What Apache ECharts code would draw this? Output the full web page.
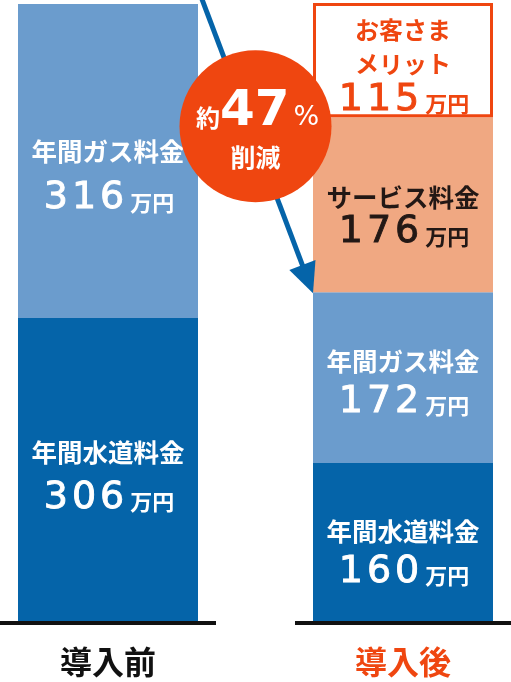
<!DOCTYPE html>
<html>
<head>
<meta charset="utf-8">
<script src="https://cdn.jsdelivr.net/npm/echarts@6/dist/echarts.min.js"></script>
<style>
  html, body { margin: 0; padding: 0; background: #fff; }
  #main { width: 511px; height: 682px; }
</style>
</head>
<body>
<div id="main"></div>
<script>
// データ
const categories = ['導入前', '導入後'];
const waterValues = [306, 160];     // 年間水道料金（万円）
const gasValues = [316, 172];       // 年間ガス料金（万円）
const serviceValues = ['-', 176];   // サービス料金（万円）
const meritValues = ['-', 115];     // お客さまメリット（万円）
const reductionText = ['約', '47', '%', '削減'];

// 色
const darkBlue = '#0564a9';
const lightBlue = '#6b9ccd';
const salmon = '#f0a882';
const orange = '#ef4610';
const fontJP = '"Noto Sans CJK JP", sans-serif';
const fontNum = '"DejaVu Sans", sans-serif';

const chart = echarts.init(document.getElementById('main'));

// 数字を1文字ずつ並べて字間をあける
const spaced = v => String(v).split('').map(d => '{n|' + d + '}').join('');

const numStyle = (color, gap) => ({
  fontSize: 38, fontFamily: fontNum, color: color, lineHeight: gap,
  textBorderColor: color, textBorderWidth: 0.9, padding: [0, 2, 0, 2]
});
const unitStyle = (color, gap) => ({
  fontSize: 22, fontWeight: 'bold', fontFamily: fontJP, color: color, lineHeight: gap, padding: [8, 0, 0, 4]
});

// ラベル用 rich テキスト
const makeLabel = (color, gap, offsetY) => ({
  show: true,
  position: 'inside',
  offset: [0, offsetY || 0],
  color: color,
  formatter: p => '{t|' + p.seriesName + '}\n' + spaced(p.value) + '{u|万円}',
  rich: {
    t: { fontSize: 25.5, fontWeight: 'bold', fontFamily: fontJP, color: color, lineHeight: gap, align: 'center' },
    n: numStyle(color, gap),
    u: unitStyle(color, gap)
  }
});

const barSeries = (name, values, color, labels, extra) => Object.assign({
  name: name,
  type: 'bar',
  stack: 'total',
  barWidth: 180,
  itemStyle: { color: color },
  emphasis: { disabled: true },
  data: values.map((v, i) => labels[i] ? { value: v, label: labels[i] } : v)
}, extra || {});

const option = {
  animation: false,
  grid: { left: -39.5, width: 590, top: 3, bottom: 60, outerBoundsMode: 'none', containLabel: false },
  xAxis: {
    type: 'category',
    data: [
      { value: categories[0], textStyle: { color: '#111' } },
      { value: categories[1], textStyle: { color: orange } }
    ],
    axisLine: { show: false },
    axisTick: { show: false },
    axisLabel: { fontSize: 32, fontWeight: 'bold', fontFamily: fontJP, margin: 24 }
  },
  yAxis: { type: 'value', min: 0, max: 623, show: false },
  series: [
    barSeries('年間水道料金', waterValues, darkBlue, [makeLabel('#fff', 46, 5), makeLabel('#fff', 41, 9)]),
    barSeries('年間ガス料金', gasValues, lightBlue, [makeLabel('#fff', 47, 14), makeLabel('#fff', 41, 4)]),
    barSeries('サービス料金', serviceValues, salmon, [null, makeLabel('#231815', 35, 10)]),
    barSeries('お客さまメリット', meritValues, '#fff', [null, Object.assign(makeLabel(orange, 33, 6), {
      formatter: p => '{s|お客さま}\n{s|メリット}\n' + spaced(p.value) + '{u|万円}',
      rich: {
        s: { fontSize: 24, fontWeight: 'bold', fontFamily: fontJP, color: orange, lineHeight: 34, align: 'center' },
        n: numStyle(orange, 38),
        u: unitStyle(orange, 38)
      }
    })], { itemStyle: { color: '#fff', borderColor: orange, borderWidth: 3 } }),
    {
      // 基準線
      type: 'custom',
      z: 5,
      silent: true,
      data: [[0, 0], [1, 0]],
      renderItem: (params, api) => {
        const p = api.coord([api.value(0), 0]);
        return {
          type: 'line',
          shape: { x1: p[0] - 108, y1: p[1] + 1, x2: p[0] + 108, y2: p[1] + 1 },
          style: { stroke: '#111', lineWidth: 4 }
        };
      }
    },
    {
      // 矢印と削減率の円
      type: 'custom',
      z: 10,
      silent: true,
      data: [[0, 0]],
      renderItem: (params, api) => {
        const total0 = waterValues[0] + gasValues[0];
        const gasTop1 = waterValues[1] + gasValues[1];
        const serviceTop1 = gasTop1 + serviceValues[1];
        const start = api.coord([0, total0]);
        const end = api.coord([1, gasTop1]);
        const mid = api.coord([1, serviceTop1]);
        const x0 = start[0] + 92, y0 = start[1] - 10;
        const x1 = end[0] - 90, y1 = end[1] + 1;
        const len = Math.hypot(x1 - x0, y1 - y0);
        const ux = (x1 - x0) / len, uy = (y1 - y0) / len;
        const headLen = 30, headW = 14;
        const bx = x1 - ux * headLen, by = y1 - uy * headLen;
        const cx = (start[0] + 90 + end[0] - 90) / 2;
        const cy = mid[1] + 9;
        return {
          type: 'group',
          children: [
            {
              type: 'line',
              shape: { x1: x0, y1: y0, x2: bx + ux * 4, y2: by + uy * 4 },
              style: { stroke: darkBlue, lineWidth: 5 }
            },
            {
              type: 'polygon',
              shape: { points: [[x1, y1], [bx - uy * headW, by + ux * headW], [bx + uy * headW, by - ux * headW]] },
              style: { fill: darkBlue }
            },
            {
              type: 'circle',
              shape: { cx: cx, cy: cy, r: 76 },
              style: { fill: orange }
            },
            {
              type: 'text',
              x: cx + 2,
              y: cy - 14,
              style: {
                text: '{a|' + reductionText[0] + '}{b|' + reductionText[1] + '}{c|' + reductionText[2] + '}',
                align: 'center',
                verticalAlign: 'middle',
                rich: {
                  a: { fontSize: 24, fontWeight: 'bold', fontFamily: fontJP, fill: '#fff', padding: [12, 0, 0, 0] },
                  b: { fontSize: 50, fontWeight: 'bold', fontFamily: fontNum, fill: '#fff' },
                  c: { fontSize: 27, fontFamily: fontNum, fill: '#fff', padding: [12, 0, 0, 4] }
                }
              }
            },
            {
              type: 'text',
              x: cx,
              y: cy + 31,
              style: {
                text: reductionText[3],
                align: 'center',
                verticalAlign: 'middle',
                fontSize: 25,
                fontWeight: 'bold',
                fontFamily: fontJP,
                fill: '#fff'
              }
            }
          ]
        };
      }
    }
  ]
};

chart.setOption(option);
</script>
</body>
</html>
